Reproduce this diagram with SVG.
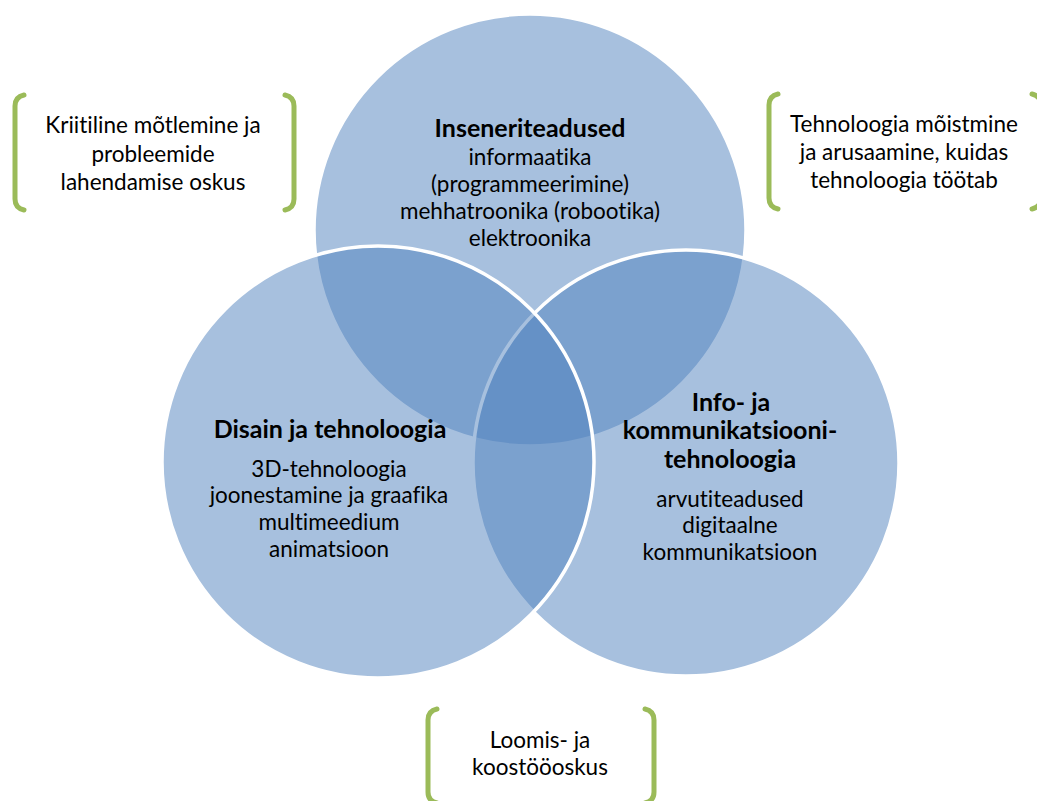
<svg xmlns="http://www.w3.org/2000/svg" width="1037" height="801" viewBox="0 0 1037 801">
<style>
.c{fill:#4F81BD;fill-opacity:0.5;stroke:#FFFFFF;stroke-width:3.5}
.t{font-family:Lato,"Liberation Sans",sans-serif;font-size:22.5px;fill:#000;text-anchor:middle;font-variant-ligatures:none}
.b{font-weight:bold;font-size:25px}
.br{fill:none;stroke:#9BBB59;stroke-width:5;stroke-linecap:round}
</style>
<rect width="1037" height="801" fill="#FFFFFF"/>
<g id="circle-top"><circle class="c" cx="530" cy="230" r="216"/></g>
<g id="circle-right"><circle class="c" cx="686" cy="463" r="213"/></g>
<g id="circle-left"><circle class="c" cx="378" cy="462" r="216"/></g>
<g id="label-top">
<text class="t b" x="530" y="137">Inseneriteadused</text>
<text class="t" x="530" y="165">informaatika</text>
<text class="t" x="530" y="192">(programmeerimine)</text>
<text class="t" x="530" y="219">mehhatroonika (robootika)</text>
<text class="t" x="530" y="246">elektroonika</text>
</g>
<g id="label-left">
<text class="t b" x="330" y="438">Disain ja tehnoloogia</text>
<text class="t" x="329" y="477">3D-tehnoloogia</text>
<text class="t" x="329" y="503">joonestamine ja graafika</text>
<text class="t" x="329" y="530">multimeedium</text>
<text class="t" x="329" y="557">animatsioon</text>
</g>
<g id="label-right">
<text class="t b" x="731" y="411">Info- ja</text>
<text class="t b" x="730" y="439">kommunikatsiooni-</text>
<text class="t b" x="730" y="468">tehnoloogia</text>
<text class="t" x="730" y="507">arvutiteadused</text>
<text class="t" x="730" y="533">digitaalne</text>
<text class="t" x="730" y="560">kommunikatsioon</text>
</g>
<g id="box-topleft">
<path class="br" d="M24,95 Q15,97 15,106 L15,199 Q15,208 24,210"/>
<path class="br" d="M285,95 Q294,97 294,106 L294,199 Q294,208 285,210"/>
<text class="t" x="153" y="133">Kriitiline mõtlemine ja</text>
<text class="t" x="153" y="162">probleemide</text>
<text class="t" x="153" y="190">lahendamise oskus</text>
</g>
<g id="box-topright">
<path class="br" d="M778,94 Q769,96 769,105 L769,198 Q769,207 778,209"/>
<path class="br" d="M1032,94 Q1041,96 1041,105 L1041,198 Q1041,207 1032,209"/>
<text class="t" x="904" y="132">Tehnoloogia mõistmine</text>
<text class="t" x="904" y="160">ja arusaamine, kuidas</text>
<text class="t" x="904" y="188">tehnoloogia töötab</text>
</g>
<g id="box-bottom">
<path class="br" d="M437,709 Q428,711 428,720 L428,792 Q428,801 437,803"/>
<path class="br" d="M645,709 Q654,711 654,720 L654,792 Q654,801 645,803"/>
<text class="t" x="540" y="748">Loomis- ja</text>
<text class="t" x="540" y="775">koostööoskus</text>
</g>
</svg>
